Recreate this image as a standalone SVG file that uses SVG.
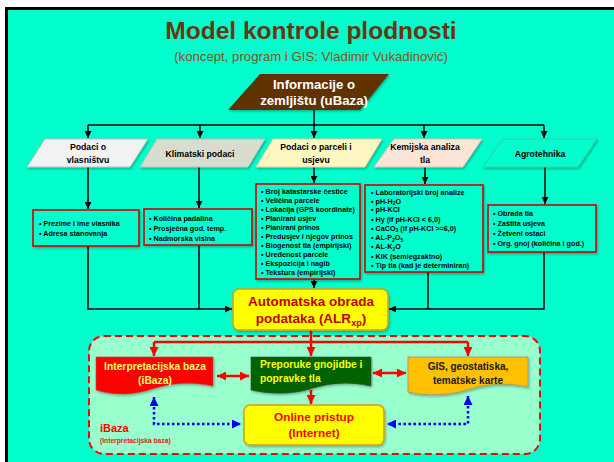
<svg xmlns="http://www.w3.org/2000/svg" width="614" height="462" viewBox="0 0 614 462">
<defs>
<style>
.t{font-family:"Liberation Sans",Arial,sans-serif;font-weight:bold}
.cat{font-size:8.7px;fill:#000;text-anchor:middle}
.li{font-size:7.2px;fill:#000}
.ln{fill:none;stroke:#000;stroke-width:1.5}
.lr{fill:none;stroke:#ff0000;stroke-width:2.5}
.lb{fill:none;stroke:#0000ff;stroke-width:2.5;stroke-dasharray:2.6 2.4}
.box{fill:#00ffcc;stroke:#d40000;stroke-width:1.6}
</style>
<filter id="sh" x="-10%" y="-10%" width="130%" height="140%">
<feDropShadow dx="1" dy="1.5" stdDeviation="1" flood-color="#000" flood-opacity="0.3"/>
</filter>
<marker id="ab" viewBox="0 0 10 10" refX="10" refY="5" markerWidth="7" markerHeight="7" markerUnits="userSpaceOnUse" orient="auto-start-reverse">
<path d="M0,0 L10,5 L0,10 z" fill="#000"/>
</marker>
<marker id="ar" viewBox="0 0 10 10" refX="10" refY="5" markerWidth="9" markerHeight="9" markerUnits="userSpaceOnUse" orient="auto-start-reverse">
<path d="M0,0 L10,5 L0,10 z" fill="#ff0000"/>
</marker>
<marker id="abl" viewBox="0 0 10 10" refX="10" refY="5" markerWidth="9" markerHeight="9" markerUnits="userSpaceOnUse" orient="auto-start-reverse">
<path d="M0,0 L10,5 L0,10 z" fill="#0000ff"/>
</marker>
</defs>
<rect x="0" y="0" width="614" height="462" fill="#fff"/>
<rect x="6.5" y="8.5" width="640" height="480" fill="#00ffcc" stroke="#000" stroke-width="3"/>
<text class="t" x="311" y="39" font-size="24.5" fill="#6b3410" text-anchor="middle">Model kontrole plodnosti</text>
<text x="311" y="61" font-family="Liberation Sans,Arial,sans-serif" font-size="13.2" fill="#86501e" text-anchor="middle">(koncept, program i GIS: Vladimir Vukadinović)</text>
<rect x="89" y="336" width="451" height="118" rx="15" fill="#99ffcc" stroke="#ff0000" stroke-width="2" stroke-dasharray="7 4"/>
<g id="connectors">
<line class="ln" x1="314" y1="110" x2="314" y2="125"/>
<line class="ln" x1="88" y1="125" x2="544" y2="125"/>
<line class="ln" x1="88" y1="125" x2="88" y2="138" marker-end="url(#ab)"/>
<line class="ln" x1="200" y1="125" x2="200" y2="138" marker-end="url(#ab)"/>
<line class="ln" x1="314" y1="125" x2="314" y2="138" marker-end="url(#ab)"/>
<line class="ln" x1="424" y1="125" x2="424" y2="138" marker-end="url(#ab)"/>
<line class="ln" x1="544" y1="125" x2="544" y2="138" marker-end="url(#ab)"/>
<line class="ln" x1="88" y1="167" x2="88" y2="209" marker-end="url(#ab)"/>
<line class="ln" x1="199" y1="167" x2="199" y2="208" marker-end="url(#ab)"/>
<line class="ln" x1="314" y1="167" x2="314" y2="183" marker-end="url(#ab)"/>
<line class="ln" x1="425" y1="167" x2="425" y2="184" marker-end="url(#ab)"/>
<line class="ln" x1="545" y1="167" x2="545" y2="204" marker-end="url(#ab)"/>
<polyline class="ln" points="88,246 88,309 232,309" marker-end="url(#ab)"/>
<line class="ln" x1="199" y1="245" x2="199" y2="309"/>
<line class="ln" x1="314" y1="279" x2="314" y2="288" marker-end="url(#ab)"/>
<polyline class="ln" points="544,252 544,309 389,309" marker-end="url(#ab)"/>
<line class="ln" x1="428" y1="272" x2="428" y2="309"/>
<line class="lr" x1="311" y1="330" x2="311" y2="356" marker-end="url(#ar)"/>
<line class="lr" x1="154" y1="342" x2="468" y2="342"/>
<line class="lr" x1="154" y1="342" x2="154" y2="356" marker-end="url(#ar)"/>
<line class="lr" x1="468" y1="342" x2="468" y2="356" marker-end="url(#ar)"/>
<line class="lr" x1="217" y1="376" x2="249" y2="376" marker-start="url(#ar)" marker-end="url(#ar)"/>
<line class="lr" x1="373" y1="373" x2="406" y2="373" marker-start="url(#ar)" marker-end="url(#ar)"/>
<line class="lr" x1="311" y1="390" x2="311" y2="404" marker-end="url(#ar)"/>
<polyline class="lb" points="154,397 154,424 241,424" marker-start="url(#abl)" marker-end="url(#abl)"/>
<polyline class="lb" points="468,396 468,424 387,424" marker-start="url(#abl)" marker-end="url(#abl)"/>
</g>
<g id="info">
<polygon points="260,74 389,74 360,110 228,110" fill="#5e3200" filter="url(#sh)"/>
<text class="t" x="314" y="88.5" font-size="13.2" fill="#fff" text-anchor="middle">Informacije o</text>
<text class="t" x="314" y="105" font-size="13.2" fill="#fff" text-anchor="middle">zemljištu (uBaza)</text>
</g>
<g id="cat-vlasnistvo">
<polygon points="45,139 148,139 130,167 27,167" fill="#f2f2f2" stroke="#bfbfbf" filter="url(#sh)"/>
<text class="t cat" x="88" y="150">Podaci o</text>
<text class="t cat" x="88" y="163">vlasništvu</text>
</g>
<g id="cat-klima">
<polygon points="157,139 265,139 248,167 140,167" fill="#d8ddd0" stroke="#b8bfb0" filter="url(#sh)"/>
<text class="t cat" x="200" y="157">Klimatski podaci</text>
</g>
<g id="cat-parcela">
<polygon points="273,139 382,139 365,167 256,167" fill="#fff7c2" stroke="#d8d0a0" filter="url(#sh)"/>
<text class="t cat" x="316" y="150">Podaci o parceli i</text>
<text class="t cat" x="316" y="163">usjevu</text>
</g>
<g id="cat-kemija">
<polygon points="394,139 482,139 463,167 374,167" fill="#fce4d6" stroke="#d8c0b0" filter="url(#sh)"/>
<text class="t cat" x="425" y="150">Kemijska analiza</text>
<text class="t cat" x="425" y="163">tla</text>
</g>
<g id="cat-agro">
<polygon points="503,139 597,139 578,167 483,167" fill="#00ffcc" stroke="#40c8a0" filter="url(#sh)"/>
<text class="t cat" x="540" y="157">Agrotehnika</text>
</g>
<g id="list-vlasnistvo">
<rect class="box" x="33" y="210" width="106" height="36" stroke="#9b2d2d" filter="url(#sh)"/>
<text class="t li" x="39" y="226">• Prezime i ime vlasnika</text>
<text class="t li" x="39" y="236">• Adresa stanovanja</text>
</g>
<g id="list-klima">
<rect class="box" x="144" y="209" width="108" height="36" filter="url(#sh)"/>
<text class="t li" x="149" y="220.5">• Količina padalina</text>
<text class="t li" x="149" y="230.5">• Prosječna god. temp.</text>
<text class="t li" x="149" y="240.5">• Nadmorska visina</text>
</g>
<g id="list-parcela">
<rect class="box" x="256" y="184" width="104" height="95" filter="url(#sh)"/>
<text class="t li" x="261" y="193.5">• Broj katastarske čestice</text>
<text class="t li" x="261" y="202.5">• Veličina parcele</text>
<text class="t li" x="261" y="211.5">• Lokacija (GPS koordinate)</text>
<text class="t li" x="261" y="220.5">• Planirani usjev</text>
<text class="t li" x="261" y="229.5">• Planirani prinos</text>
<text class="t li" x="261" y="238.5">• Predusjev i njegov prinos</text>
<text class="t li" x="261" y="247.5">• Biogenost tla (empirijski)</text>
<text class="t li" x="261" y="256.5">• Uređenost parcele</text>
<text class="t li" x="261" y="265.5">• Ekspozicija i nagib</text>
<text class="t li" x="261" y="274.5">• Tekstura (empirijski)</text>
</g>
<g id="list-kemija">
<rect class="box" x="365" y="185" width="118" height="87" filter="url(#sh)"/>
<text class="t li" x="371" y="194.5">• Laboratorijski broj analize</text>
<text class="t li" x="371" y="203.5">• pH-H<tspan font-size="5" dy="1.5">2</tspan><tspan dy="-1.5">O</tspan></text>
<text class="t li" x="371" y="211.5">• pH-KCl</text>
<text class="t li" x="371" y="221.5">• Hy (if pH-KCl &lt; 6,0)</text>
<text class="t li" x="371" y="230.5">• CaCO<tspan font-size="5" dy="1.5">3</tspan><tspan dy="-1.5"> (if pH-KCl &gt;=6,0)</tspan></text>
<text class="t li" x="371" y="240">• AL-P<tspan font-size="5" dy="1.5">2</tspan><tspan dy="-1.5">O</tspan><tspan font-size="5" dy="1.5">5</tspan></text>
<text class="t li" x="371" y="249">• AL-K<tspan font-size="5" dy="1.5">2</tspan><tspan dy="-1.5">O</tspan></text>
<text class="t li" x="371" y="258.5">• KIK (semiegzaktno)</text>
<text class="t li" x="371" y="267.5">• Tip tla (kad je determiniran)</text>
</g>
<g id="list-agro">
<rect class="box" x="488" y="205" width="108" height="47" filter="url(#sh)"/>
<text class="t li" x="493" y="215.5">• Obrada tla</text>
<text class="t li" x="493" y="225.5">• Zaštita usjeva</text>
<text class="t li" x="493" y="235.5">• Žetveni ostaci</text>
<text class="t li" x="493" y="245.5">• Org. gnoj (količina i god.)</text>
</g>
<g id="alr">
<rect x="233" y="289" width="155" height="41" rx="6" fill="#ffff00" stroke="#d4a017" stroke-width="1.5" filter="url(#sh)"/>
<text class="t" x="311" y="305.5" font-size="13.5" fill="#c00000" text-anchor="middle">Automatska obrada</text>
<text class="t" x="311" y="322.5" font-size="13.5" fill="#c00000" text-anchor="middle">podataka (ALR<tspan font-size="9" dy="3">xp</tspan><tspan dy="-3">)</tspan></text>
</g>
<g id="ibaza">
<path d="M96,357 H213 V386 C190,381 170,383 152,389 C132,396 112,395 96,390 Z" fill="#ff0000" stroke="#c04040" stroke-width="0.6" filter="url(#sh)"/>
<text class="t" x="155" y="370" font-size="10.3" fill="#ffff66" text-anchor="middle">Interpretacijska baza</text>
<text class="t" x="155" y="384" font-size="10.3" fill="#ffff66" text-anchor="middle">(iBaza)</text>
</g>
<g id="preporuke">
<path d="M251,357 H371 V386 C348,381 328,383 310,389 C290,395 268,394 251,390 Z" fill="#006400" stroke="#404040" stroke-width="0.6" filter="url(#sh)"/>
<text class="t" x="260" y="368" font-size="10.3" fill="#ffff00">Preporuke gnojidbe i</text>
<text class="t" x="260" y="382" font-size="10.3" fill="#ffff00">popravke tla</text>
</g>
<g id="gis">
<path d="M408,357 H528 V387 C505,382 485,384 467,390 C447,396 425,396 408,392 Z" fill="#ffc000" stroke="#a09070" stroke-width="0.8" filter="url(#sh)"/>
<text class="t" x="468" y="369.5" font-size="10" fill="#1a1a1a" text-anchor="middle">GIS, geostatiska,</text>
<text class="t" x="468" y="383.5" font-size="10" fill="#1a1a1a" text-anchor="middle">tematske karte</text>
</g>
<g id="online">
<rect x="244" y="405" width="140" height="40" rx="6" fill="#ffff00" stroke="#d4a017" stroke-width="1.5" filter="url(#sh)"/>
<text class="t" x="314" y="420.5" font-size="11.8" fill="#ff0000" text-anchor="middle">Online pristup</text>
<text class="t" x="314" y="437" font-size="11.8" fill="#ff0000" text-anchor="middle">(Internet)</text>
</g>
<g id="ibaza-label">
<text class="t" x="100" y="432" font-size="11" fill="#ff0000">iBaza</text>
<text class="t" x="100" y="443" font-size="6.7" fill="#e02020">(Interpretacijska baza)</text>
</g>
</svg>
